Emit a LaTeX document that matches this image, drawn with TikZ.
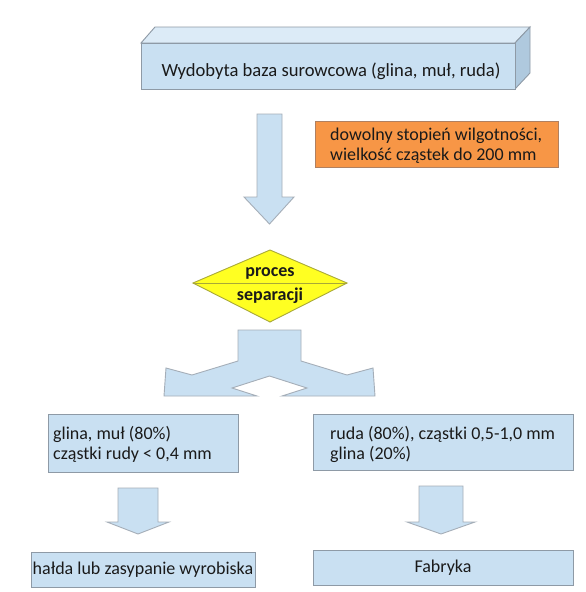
\documentclass[tikz,border=0pt]{standalone}
\usepackage{fontspec}
\setmainfont{Carlito}
\definecolor{bfill}{HTML}{C9E0F2}
\definecolor{btop}{HTML}{DCEBF7}
\definecolor{bside}{HTML}{AFC9DE}
\definecolor{bline}{HTML}{8E9AA6}
\definecolor{ofill}{HTML}{F79646}
\definecolor{oline}{HTML}{B08060}
\definecolor{yfill}{HTML}{FFFF22}
\definecolor{yline}{HTML}{A8A838}
\definecolor{txt}{HTML}{1A1A1A}
\begin{document}
\begin{tikzpicture}[x=1pt,y=-1pt,
  txtfont/.style={font=\fontsize{18}{20}\selectfont, text=txt, inner sep=0pt},
  boxst/.style={fill=bfill, draw=bline, line width=0.9pt},
  arrowst/.style={fill=bfill, draw=bline!80, line width=0.9pt, line join=miter},
]
\useasboundingbox (0,0) rectangle (586,592);
\fill[white] (0,0) rectangle (586,592);

% top 3D box
\draw[boxst, fill=btop] (141,43) -- (155,27) -- (530,27) -- (515,43) -- cycle;
\draw[boxst, fill=bside] (515,43) -- (530,27) -- (530,73) -- (515,89) -- cycle;
\draw[boxst] (141,43) rectangle (515,89);
\node[txtfont, font=\fontsize{18.6}{20}\selectfont] (top) at (331,71) {Wydobyta baza surowcowa (glina, muł, ruda)};

% first down arrow
\coordinate (a1) at (269.5,114);
\draw[arrowst] (257,114) -- (282,114) -- (282,197) -- (294,197) -- (269.5,224) -- (244,197) -- (257,197) -- cycle;

% orange note
\draw[fill=ofill, draw=oline, line width=0.8pt] (315,121) rectangle (558,167);
\node[txtfont, align=left, anchor=west] (note) at (330,146) {dowolny stopień wilgotności,\\wielkość cząstek do 200 mm};

% diamond
\draw[fill=yfill, draw=yline, line width=0.9pt] (193,283) -- (270,250) -- (347,283) -- (270,322) -- cycle;
\draw[yline, line width=0.9pt] (193,283) -- (347,283);
\node[txtfont, font=\fontsize{18}{20}\selectfont\bfseries] (p1) at (270,273) {proces};
\node[txtfont, font=\fontsize{18}{20}\selectfont\bfseries] (p2) at (270,296) {separacji};

% split arrow
\draw[arrowst] (238,330) -- (301,330) -- (301,361) -- (347,375) -- (373,368) -- (375,396)
  -- (282,396) -- (307,388) -- (269.5,376) -- (232,388) -- (257,396) -- (164,396)
  -- (166,368) -- (192,375) -- (238,361) -- cycle;

% middle boxes
\draw[boxst] (48,414) rectangle (238,472);
\node[txtfont, align=left, anchor=west] (lbox) at (53,444) {glina, muł (80\%)\\cząstki rudy < 0,4 mm};
\draw[boxst] (313,414) rectangle (573,470);
\node[txtfont, align=left, anchor=west] (rbox) at (330,444) {ruda (80\%), cząstki 0,5-1,0 mm\\glina (20\%)};

% lower arrows
\draw[arrowst] (118,488) -- (158,488) -- (158,522) -- (169,522) -- (138,534) -- (107,522) -- (118,522) -- cycle;
\draw[arrowst] (419,486) -- (463,486) -- (463,522) -- (475,522) -- (441,534) -- (407,522) -- (419,522) -- cycle;

% bottom boxes
\draw[boxst] (31,552) rectangle (255,587);
\node[txtfont] (hb) at (143,569.5) {hałda lub zasypanie wyrobiska};
\draw[boxst] (313,550) rectangle (573,585);
\node[txtfont] (fb) at (443,568) {Fabryka};
\end{tikzpicture}
\end{document}
